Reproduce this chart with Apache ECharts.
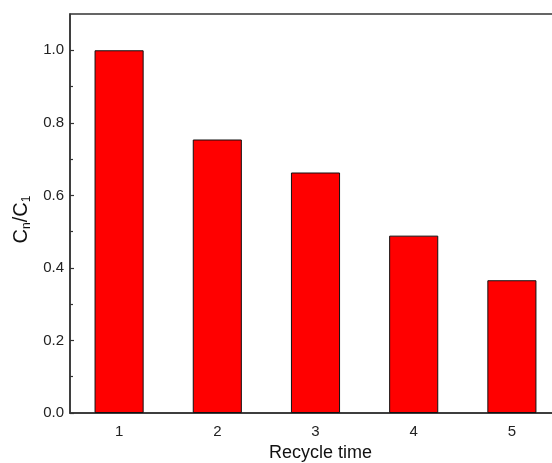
<!DOCTYPE html>
<html>
<head>
<meta charset="utf-8">
<script src="https://cdn.jsdelivr.net/npm/echarts@6/dist/echarts.min.js"></script>
<style>
  html, body { margin: 0; padding: 0; background: #fff; }
  #container { width: 552px; height: 463px; }
</style>
</head>
<body>
<div id="container"></div>
<script>
var cycles = ['1', '2', '3', '4', '5'];
var ratios = [1.0, 0.754, 0.663, 0.489, 0.366];
var majorTicks = [0, 0.2, 0.4, 0.6, 0.8, 1.0];
var minorTicks = [0.1, 0.3, 0.5, 0.7, 0.9];

var myChart = echarts.init(document.getElementById('container'));
var font = 'Liberation Sans, Arial, sans-serif';

var option = {
  animation: false,
  grid: {
    left: 70, top: 14, width: 491, height: 399,
    outerBoundsMode: 'none',
    containLabel: false,
    show: true, borderColor: '#333', borderWidth: 1.5 // 上边框
  },
  xAxis: {
    type: 'category',
    data: cycles,
    name: 'Recycle time',
    nameLocation: 'middle',
    nameGap: 31,
    nameTextStyle: { fontFamily: font, fontSize: 18, color: '#111', padding: [0, 0, 0, 10] },
    axisLine: { lineStyle: { color: '#333', width: 1.5 } },
    axisTick: { show: false },
    axisLabel: { fontFamily: font, fontSize: 15, color: '#222', margin: 11 }
  },
  yAxis: [{
    type: 'value',
    min: 0, max: 1.1,
    name: 'C{sub|n}/C{sub|1}',
    nameLocation: 'middle',
    nameGap: 37,
    nameTextStyle: {
      fontFamily: font, fontSize: 20, color: '#111', padding: [0, 12, 0, 0],
      rich: { sub: { fontFamily: font, fontSize: 12, color: '#111', verticalAlign: 'bottom', padding: [9, 0, 0, 0] } }
    },
    axisLine: { show: true, lineStyle: { color: '#333', width: 1.5 } },
    axisTick: { show: true, inside: true, length: 4, customValues: majorTicks, lineStyle: { color: '#333', width: 1.2 } },
    axisLabel: {
      fontFamily: font, fontSize: 15, color: '#222', margin: 6,
      customValues: majorTicks,
      formatter: function (v) { return v.toFixed(1); }
    },
    splitLine: { show: false }
  }, {
    // 次刻度
    type: 'value',
    min: 0, max: 1.1,
    position: 'left',
    axisLine: { show: false },
    axisTick: { show: true, inside: true, length: 3, customValues: minorTicks, lineStyle: { color: '#333', width: 1.2 } },
    axisLabel: { show: false },
    splitLine: { show: false }
  }],
  series: [{
    type: 'bar',
    data: ratios,
    barWidth: '50%',
    itemStyle: { color: '#ff0000', borderColor: '#111', borderWidth: 1 }
  }]
};

myChart.setOption(option);
</script>
</body>
</html>
